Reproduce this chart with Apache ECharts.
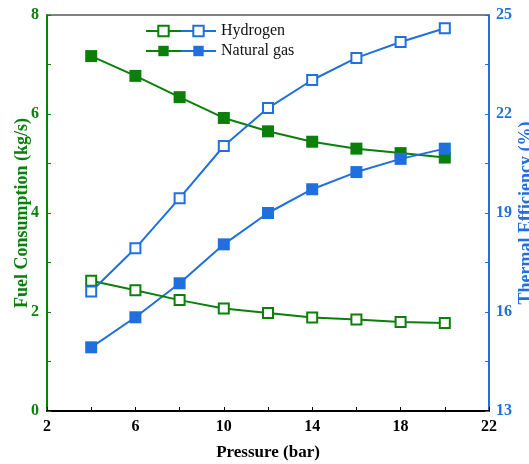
<!DOCTYPE html>
<html>
<head>
<meta charset="utf-8">
<script src="https://cdn.jsdelivr.net/npm/echarts@6/dist/echarts.min.js"></script>
<style>
  html, body { margin: 0; padding: 0; background: #fff; }
  #chart { width: 529px; height: 464px; }
</style>
</head>
<body>
<div id="chart"></div>
<script>
const pressure = [4, 6, 8, 10, 12, 14, 16, 18, 20];
const h2Fuel = [2.63, 2.44, 2.24, 2.07, 1.98, 1.89, 1.85, 1.80, 1.78];
const ngFuel = [7.17, 6.77, 6.34, 5.92, 5.65, 5.44, 5.30, 5.21, 5.12];
const h2Eff = [16.62, 17.93, 19.45, 21.03, 22.18, 23.03, 23.70, 24.18, 24.60];
const ngEff = [14.93, 15.84, 16.87, 18.05, 19.00, 19.72, 20.24, 20.64, 20.95];

const green = '#0a7f0a';
const blue = '#1f6fdf';
const font = 'Liberation Serif';

const pairs = arr => pressure.map((p, i) => [p, arr[i]]);

const chart = echarts.init(document.getElementById('chart'));

function lineSeries(name, data, color, open, yIdx) {
  return {
    name: name,
    type: 'line',
    yAxisIndex: yIdx,
    data: pairs(data),
    symbol: 'rect',
    symbolSize: open ? 10 : 12,
    lineStyle: { color: color, width: 2 },
    itemStyle: open
      ? { color: '#fff', borderColor: color, borderWidth: 2 }
      : { color: color, borderColor: color, borderWidth: 0 },
    emphasis: { disabled: true },
    z: open ? 3 : 2,
  };
}

const legendText = { fontSize: 16, lineHeight: 18, color: '#111', fontFamily: font };

const option = {
  animation: false,
  textStyle: { fontFamily: font },
  grid: { left: 47, right: 40, top: 15, bottom: 53, containLabel: false, outerBoundsMode: 'none' },
  legend: [
    {
      // green half of each legend icon, no text
      orient: 'vertical',
      left: 145,
      top: 22,
      padding: 0,
      itemWidth: 35,
      itemHeight: 13,
      itemGap: 2,
      formatter: () => ' ',
      data: ['Hydrogen fuel', 'Natural gas fuel'],
      textStyle: legendText,
    },
    {
      orient: 'vertical',
      left: 180,
      top: 22,
      padding: 0,
      itemWidth: 35,
      itemHeight: 13,
      itemGap: 2,
      data: ['Hydrogen', 'Natural gas'],
      textStyle: legendText,
    },
  ],
  xAxis: {
    type: 'value',
    min: 2,
    max: 22,
    interval: 2,
    name: 'Pressure (bar)',
    nameLocation: 'middle',
    nameGap: 33,
    nameMoveOverlap: false,
    nameTextStyle: { fontSize: 17, fontWeight: 'bold', color: '#000', fontFamily: font },
    axisLine: { onZero: false, lineStyle: { color: '#000', width: 2 } },
    axisTick: { inside: true, length: 4, lineStyle: { color: '#000' } },
    axisLabel: {
      fontSize: 16,
      fontWeight: 'bold',
      color: '#000',
      fontFamily: font,
      margin: 8,
      formatter: v => ((v - 2) % 4 === 0 ? String(v) : ''),
    },
    splitLine: { show: false },
  },
  yAxis: [
    {
      type: 'value',
      min: 0,
      max: 8,
      interval: 1,
      position: 'left',
      name: 'Fuel Consumption (kg/s)',
      nameLocation: 'middle',
      nameRotate: 90,
      nameGap: 16,
      nameMoveOverlap: false,
      nameTextStyle: { fontSize: 18, fontWeight: 'bold', color: green, fontFamily: font },
      axisLine: { show: true, lineStyle: { color: green, width: 2 } },
      axisTick: { inside: true, length: 4, lineStyle: { color: green } },
      axisLabel: {
        fontSize: 16,
        fontWeight: 'bold',
        color: green,
        fontFamily: font,
        margin: 8,
        formatter: v => (v % 2 === 0 ? String(v) : ''),
      },
      splitLine: { show: false },
    },
    {
      type: 'value',
      min: 13,
      max: 25,
      interval: 1.5,
      position: 'right',
      name: 'Thermal Efficiency (%)',
      nameLocation: 'middle',
      nameRotate: 90,
      nameGap: 28,
      nameMoveOverlap: false,
      nameTextStyle: { fontSize: 18, fontWeight: 'bold', color: blue, fontFamily: font },
      axisLine: { show: true, lineStyle: { color: blue, width: 2 } },
      axisTick: { inside: true, length: 4, lineStyle: { color: blue } },
      axisLabel: {
        fontSize: 16,
        fontWeight: 'bold',
        color: blue,
        fontFamily: font,
        margin: 7,
        formatter: v => ((v - 13) % 3 === 0 ? String(v) : ''),
      },
      splitLine: { show: false },
    },
  ],
  graphic: [
    {
      // top frame line
      type: 'line',
      shape: { x1: 47, y1: 15, x2: 489, y2: 15 },
      style: { stroke: '#000', lineWidth: 1 },
      silent: true,
    },
  ],
  series: [
    lineSeries('Hydrogen fuel', h2Fuel, green, true, 0),
    lineSeries('Natural gas fuel', ngFuel, green, false, 0),
    lineSeries('Hydrogen', h2Eff, blue, true, 1),
    lineSeries('Natural gas', ngEff, blue, false, 1),
  ],
};

chart.setOption(option);
</script>
</body>
</html>
